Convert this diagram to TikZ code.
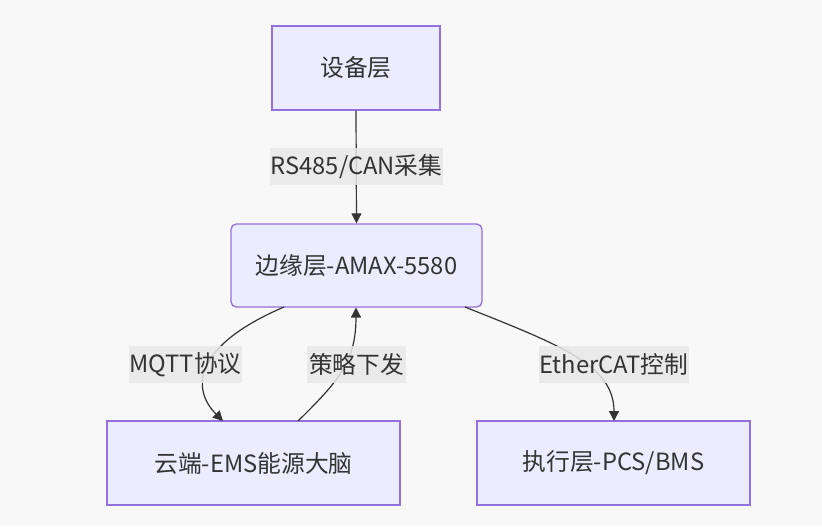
\documentclass[tikz,border=0pt]{standalone}
\usepackage{fontspec}
\setmainfont{Noto Sans CJK SC}
\usetikzlibrary{arrows.meta}
\definecolor{bgc}{HTML}{F8F8F8}
\definecolor{nodefill}{HTML}{ECECFF}
\definecolor{nodeline}{HTML}{9370DB}
\definecolor{txt}{HTML}{333333}
\definecolor{lblbg}{HTML}{E8E8E8}
\tikzset{
  box/.style={draw=nodeline, fill=nodefill, line width=1pt, text=txt, font=\fontsize{17.8}{20}\selectfont, inner sep=0pt},
  lbl/.style={fill=lblbg, fill opacity=0.85, text opacity=1, text=txt, font=\fontsize{17.8}{20}\selectfont, inner sep=0pt},
  conn/.style={draw=txt, line width=0.9pt, -{Triangle[length=7.5pt,width=7.5pt]}}
}
\begin{document}
\begin{tikzpicture}[x=0.75pt,y=-0.75pt]
\fill[bgc] (0,0) rectangle (822,526);
\useasboundingbox (0,0) rectangle (822,526);
\node[box, minimum width=168*0.75pt, minimum height=84*0.75pt] (dev) at (356,68) {设备层};
\node[box, rounded corners=4pt, minimum width=251*0.75pt, minimum height=83*0.75pt] (edge) at (356.5,265.5) {边缘层-AMAX-5580};
\node[box, minimum width=293*0.75pt, minimum height=84*0.75pt] (cloud) at (253.5,463) {云端-EMS能源大脑};
\node[box, minimum width=273*0.75pt, minimum height=84*0.75pt] (exec) at (613.5,463) {执行层-PCS/BMS};
\coordinate (e1) at (284,307);
\coordinate (c1) at (223,421);
\coordinate (c2) at (298,421);
\coordinate (e2) at (356,307.5);
\coordinate (e3) at (465,307);
\coordinate (x1) at (614,421);
\draw[conn] (dev.south) -- (edge.north);
\draw[conn] (e1) .. controls (195,345) and (190,388) .. (c1);
\draw[conn] (c2) .. controls (340,380) and (356,360) .. (e2);
\draw[conn] (e3) .. controls (560,345) and (614,365) .. (x1);
\node[lbl, minimum width=173*0.75pt, minimum height=37*0.75pt] (l1) at (356.5,166.5) {RS485/CAN采集};
\node[lbl, minimum width=113*0.75pt, minimum height=37*0.75pt] (l2) at (185.5,364.5) {MQTT协议};
\node[lbl, minimum width=99*0.75pt, minimum height=37*0.75pt] (l3) at (356.5,364.5) {策略下发};
\node[lbl, minimum width=150*0.75pt, minimum height=37*0.75pt] (l4) at (614,364.5) {EtherCAT控制};
\end{tikzpicture}
\end{document}
